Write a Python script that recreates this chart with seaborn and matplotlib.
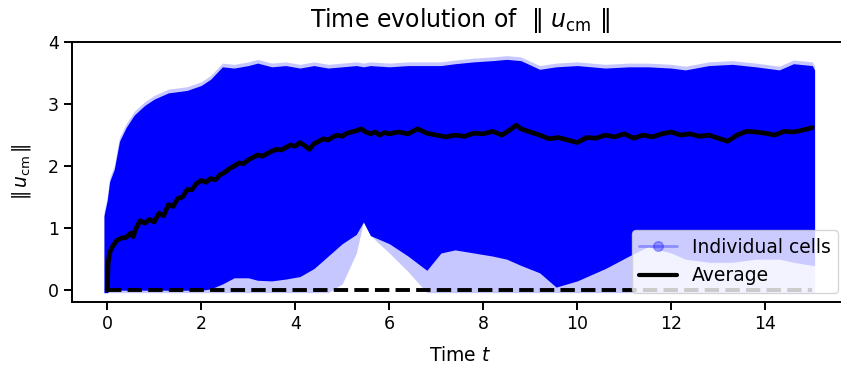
import numpy as np
import pandas as pd
import matplotlib
matplotlib.use("Agg")
import matplotlib.pyplot as plt
from matplotlib.lines import Line2D
import seaborn as sns

# average speed over time
avg_t = [0, 0.02, 0.05, 0.1, 0.2, 0.3, 0.4, 0.5, 0.55, 0.6, 0.7, 0.8, 0.9, 1.0, 1.1, 1.2, 1.3, 1.4,
         1.5, 1.6, 1.7, 1.8, 1.9, 2.0, 2.1, 2.2, 2.3, 2.4, 2.5, 2.6, 2.7, 2.8, 2.9, 3.0, 3.1, 3.2,
         3.3, 3.4, 3.5, 3.6, 3.7, 3.8, 3.9, 4.0, 4.1, 4.2, 4.3, 4.4, 4.5, 4.6, 4.7, 4.8, 4.9, 5.0,
         5.1, 5.2, 5.3, 5.4, 5.5, 5.6, 5.7, 5.8, 5.9, 6.0, 6.2, 6.4, 6.6, 6.8, 7.0, 7.2, 7.4, 7.6,
         7.8, 8.0, 8.2, 8.4, 8.6, 8.7, 8.8, 9.0, 9.2, 9.4, 9.6, 9.8, 10.0, 10.2, 10.4, 10.6, 10.8,
         11.0, 11.2, 11.4, 11.6, 11.8, 12.0, 12.2, 12.4, 12.6, 12.8, 13.0, 13.2, 13.4, 13.6, 13.8,
         14.0, 14.2, 14.4, 14.6, 14.8, 15.0]
avg_v = [0.0, 0.45, 0.6, 0.69, 0.8, 0.84, 0.85, 0.92, 0.86, 0.98, 1.12, 1.08, 1.14, 1.1, 1.24, 1.2, 1.38, 1.35,
         1.48, 1.5, 1.62, 1.62, 1.72, 1.77, 1.74, 1.8, 1.78, 1.86, 1.9, 1.96, 2.0, 2.05, 2.04, 2.1, 2.14, 2.18,
         2.16, 2.2, 2.24, 2.27, 2.26, 2.3, 2.34, 2.32, 2.38, 2.33, 2.27, 2.36, 2.4, 2.44, 2.42, 2.47, 2.5, 2.48,
         2.53, 2.55, 2.57, 2.6, 2.55, 2.52, 2.55, 2.5, 2.54, 2.52, 2.55, 2.52, 2.6, 2.53, 2.5, 2.47, 2.5, 2.48,
         2.53, 2.52, 2.56, 2.5, 2.6, 2.66, 2.6, 2.55, 2.5, 2.44, 2.46, 2.42, 2.38, 2.46, 2.45, 2.5, 2.47,
         2.52, 2.45, 2.5, 2.47, 2.52, 2.55, 2.5, 2.52, 2.48, 2.5, 2.45, 2.4, 2.5, 2.56, 2.55,
         2.53, 2.5, 2.56, 2.55, 2.58, 2.62]

# envelope of the individual cell cloud
cloud_t = [-0.07, 0, 0.05, 0.15, 0.26, 0.4, 0.57, 0.8, 1.0, 1.3, 1.7, 2.0, 2.2, 2.45, 2.7, 3.0, 3.2, 3.5, 3.8,
           4.1, 4.4, 4.7, 5.0, 5.3, 5.45, 5.6, 6.0, 6.4, 6.8, 7.1, 7.4, 7.8, 8.2, 8.5, 8.8, 9.2, 9.55,
           10.0, 10.6, 11.1, 11.5, 12.0, 12.3, 12.8, 13.3, 13.8, 14.3, 14.6, 15.0, 15.05]
cloud_top = [1.2, 1.45, 1.75, 1.95, 2.4, 2.62, 2.82, 2.98, 3.08, 3.18, 3.22, 3.3, 3.4, 3.6, 3.58, 3.62, 3.66, 3.6, 3.62,
             3.58, 3.62, 3.58, 3.6, 3.62, 3.6, 3.62, 3.6, 3.62, 3.62, 3.62, 3.65, 3.68, 3.7, 3.72, 3.7, 3.56, 3.6,
             3.62, 3.58, 3.6, 3.6, 3.58, 3.55, 3.62, 3.64, 3.6, 3.55, 3.65, 3.62, 3.55]
cloud_low = [-0.04, -0.04, 0, 0, 0, 0, 0, 0, 0, 0, 0, 0, 0.02, 0.1, 0.2, 0.2, 0.16, 0.15, 0.18,
             0.22, 0.35, 0.55, 0.75, 0.9, 1.1, 0.88, 0.75, 0.55, 0.32, 0.6, 0.65, 0.6, 0.55, 0.5, 0.4, 0.28, 0.05,
             0.15, 0.35, 0.55, 0.7, 0.6, 0.5, 0.45, 0.45, 0.5, 0.5, 0.45, 0.4, 0.4]
sparse_low = [-0.04, -0.04, -0.04, -0.04, -0.04, -0.04, -0.04, -0.04, -0.04, -0.04, -0.04, -0.04, -0.04, -0.04, -0.04, -0.04, -0.04, -0.04, -0.04,
              -0.04, -0.04, -0.04, 0.1, 0.6, 1.1, 0.88, 0.6, 0.3, -0.04, -0.04, -0.04, -0.04, -0.04, -0.04, -0.04, -0.04, -0.04,
              -0.04, -0.04, -0.04, -0.04, -0.04, -0.04, -0.04, -0.04, -0.04, -0.04, -0.04, -0.04, -0.04]

sns.set_theme(style="ticks")
plt.rcParams['font.family'] = ['DejaVu Sans']
plt.rcParams['mathtext.fontset'] = 'dejavusans'
plt.rcParams['text.color'] = 'black'
plt.rcParams['axes.labelcolor'] = 'black'
plt.rcParams['xtick.color'] = 'black'
plt.rcParams['ytick.color'] = 'black'
plt.rcParams['axes.edgecolor'] = 'black'

fig = plt.figure(figsize=(8.41, 3.74), dpi=100)
ax = fig.add_axes([72 / 841, 72 / 374, 775.5 / 841, 260 / 374])

ct = np.array(cloud_t)
top = np.array(cloud_top)
ax.fill_between(ct, sparse_low, top + 0.06, color="blue", alpha=0.22, lw=0)
ax.fill_between(ct, cloud_low, top, color="blue", alpha=1.0, lw=0)

ax.plot([0, 15], [0, 0], color="black", ls="--", lw=2.8)

df = pd.DataFrame({"t": avg_t, "v": avg_v})
sns.lineplot(data=df, x="t", y="v", color="black", lw=3.4, ax=ax)

ax.set_xlim(-0.75, 15.75)
ax.set_ylim(-0.19, 4.0)
ax.set_xticks([0, 2, 4, 6, 8, 10, 12, 14])
ax.set_yticks([0, 1, 2, 3, 4])
ax.tick_params(labelsize=12.5, length=6, width=1.4)
for s in ax.spines.values():
    s.set_linewidth(1.4)

ax.set_xlabel(r"Time $t$", fontsize=13.5, labelpad=9)
ax.set_ylabel(r"$\|\,u_{\mathrm{cm}}\,\|$", fontsize=13.5, labelpad=11)
ax.set_title(r"Time evolution of  $\|\ u_{\mathrm{cm}}\ \|$", fontsize=17, pad=11)

handles = [Line2D([], [], color="blue", marker="o", alpha=0.3, lw=2, markersize=7),
           Line2D([], [], color="black", lw=3)]
ax.legend(handles, ["Individual cells", "Average"], loc="lower right", fontsize=13.5)

fig.savefig("out.png", dpi=100)
